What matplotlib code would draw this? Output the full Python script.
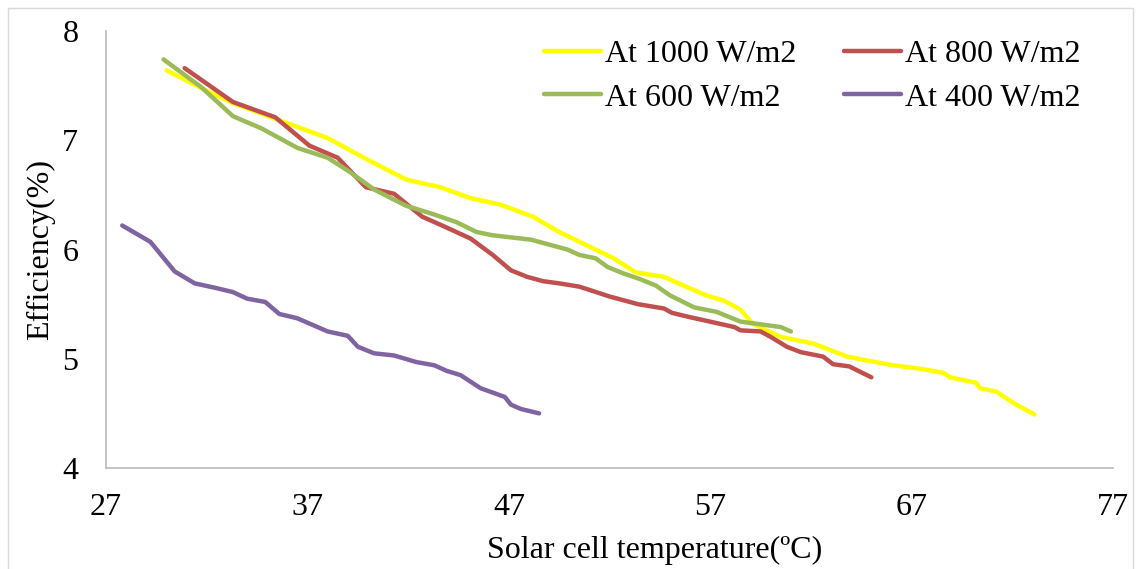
import matplotlib
matplotlib.use("Agg")
import matplotlib.pyplot as plt
from matplotlib.patches import Rectangle

# Solar cell temperature (ºC) and efficiency (%)
temp_1000 = [30.0, 31.7, 33.3, 35.5, 38.0, 39.9, 41.9, 43.6, 45.1, 46.6, 48.2, 49.5,
             52.2, 53.3, 54.7, 55.8, 56.8, 57.7, 58.5, 59.1, 60.5, 62.1, 63.8, 64.9,
             66.1, 67.4, 68.6, 68.9, 70.2, 70.4, 71.2, 72.1, 73.1]
eff_1000 = [7.64, 7.48, 7.34, 7.19, 7.02, 6.83, 6.64, 6.57, 6.47, 6.41, 6.30, 6.16,
            5.92, 5.79, 5.75, 5.66, 5.58, 5.53, 5.45, 5.32, 5.20, 5.14, 5.02, 4.98,
            4.94, 4.91, 4.87, 4.83, 4.78, 4.73, 4.70, 4.59, 4.49]

temp_800 = [30.9, 33.3, 35.4, 37.1, 38.5, 39.9, 41.3, 42.7, 43.8, 45.1, 46.2, 47.1,
            47.9, 48.7, 49.5, 50.5, 52.0, 53.4, 54.7, 55.1, 56.0, 56.5, 58.2, 58.5,
            59.5, 60.0, 60.8, 61.5, 62.6, 63.1, 63.9, 65.0]
eff_800 = [7.66, 7.35, 7.21, 6.95, 6.84, 6.57, 6.51, 6.30, 6.21, 6.10, 5.95, 5.81,
           5.75, 5.71, 5.69, 5.66, 5.57, 5.50, 5.46, 5.42, 5.38, 5.36, 5.29, 5.26,
           5.25, 5.20, 5.11, 5.06, 5.02, 4.95, 4.93, 4.83]

temp_600 = [29.85, 31.7, 33.3, 34.7, 36.5, 38.0, 39.1, 40.3, 41.9, 43.3, 44.4, 45.4,
            46.2, 48.1, 48.7, 49.3, 49.9, 50.5, 51.3, 51.9, 52.7, 53.5, 54.3, 55.0,
            56.2, 57.3, 58.5, 59.3, 60.5, 61.0]
eff_600 = [7.74, 7.49, 7.22, 7.11, 6.93, 6.84, 6.71, 6.55, 6.40, 6.32, 6.25, 6.16,
           6.13, 6.09, 6.06, 6.03, 6.00, 5.95, 5.92, 5.84, 5.78, 5.73, 5.67, 5.58,
           5.47, 5.43, 5.34, 5.32, 5.29, 5.25]

temp_400 = [27.8, 29.2, 30.4, 31.4, 32.4, 33.3, 34.0, 34.9, 35.6, 36.5, 38.0, 39.0,
            39.5, 40.3, 41.3, 42.4, 43.3, 43.9, 44.6, 45.1, 45.6, 46.2, 46.8, 47.1,
            47.6, 48.5]
eff_400 = [6.22, 6.07, 5.80, 5.69, 5.65, 5.61, 5.55, 5.52, 5.41, 5.37, 5.25, 5.21,
           5.11, 5.05, 5.03, 4.97, 4.94, 4.89, 4.85, 4.79, 4.73, 4.69, 4.65, 4.58,
           4.54, 4.50]

series = [
    ("At 1000 W/m2", temp_1000, eff_1000, "#FFFF00"),
    ("At 800 W/m2", temp_800, eff_800, "#C0504D"),
    ("At 600 W/m2", temp_600, eff_600, "#9BBB59"),
    ("At 400 W/m2", temp_400, eff_400, "#8064A2"),
]

x_ticks = [27, 37, 47, 57, 67, 77]
y_ticks = [4, 5, 6, 7, 8]

plt.rcParams["font.family"] = ["Liberation Serif", "DejaVu Serif"]

fig = plt.figure(figsize=(11.41, 5.69), dpi=100)
ax = fig.add_axes([0.093, 0.1775, 0.8825, 0.768])

# light chart-area border
fig.patches.append(Rectangle((0.007, -0.05), 0.986, 1.036, transform=fig.transFigure,
                             fill=False, edgecolor="#D9D9D9", linewidth=1.0))

lines = {}
for label, xs, ys, color in series:
    lines[label], = ax.plot(xs, ys, color=color, linewidth=3.2, label=label,
                            solid_capstyle="round")

ax.set_xlim(27, 77)
ax.set_ylim(4, 8)
ax.set_xticks(x_ticks)
ax.set_yticks(y_ticks)
ax.tick_params(axis="both", length=0, labelsize=23)
ax.tick_params(axis="x", pad=18)
ax.tick_params(axis="y", pad=20)

for side in ["top", "right"]:
    ax.spines[side].set_visible(False)
for side in ["left", "bottom"]:
    ax.spines[side].set_color("#BFBFBF")
    ax.spines[side].set_linewidth(1.3)

ax.set_xlabel("Solar cell temperature(ºC)", fontsize=23, labelpad=12)
ax.xaxis.set_label_coords(0.545, -0.155)
ax.set_ylabel("Efficiency(%)", fontsize=23, labelpad=5)

# legend fills row by row: 1000, 800 / 600, 400
order = ["At 1000 W/m2", "At 600 W/m2", "At 800 W/m2", "At 400 W/m2"]
ax.legend([lines[k] for k in order], order, loc="upper right", ncol=2, fontsize=23,
          frameon=False, handlelength=1.8, handletextpad=0.1, columnspacing=1.5,
          labelspacing=0.45, borderaxespad=0.0, bbox_to_anchor=(0.98, 1.01))

fig.savefig("out.png", dpi=100)
